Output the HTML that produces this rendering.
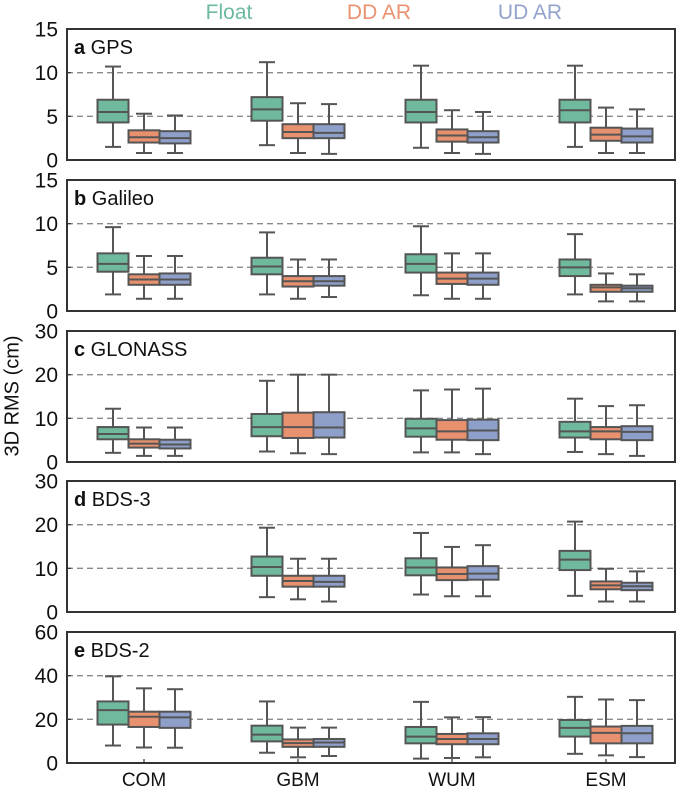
<!DOCTYPE html>
<html><head><meta charset="utf-8"><style>
html,body{margin:0;padding:0;background:#fff;}
svg{display:block;font-family:"Liberation Sans",Arial,sans-serif;}
</style></head><body>
<svg id="chart" width="685" height="792" viewBox="0 0 685 792" xmlns="http://www.w3.org/2000/svg">
<g>
<text x="229" y="19" font-size="21" fill="#6dbb9f" text-anchor="middle">Float</text>
<text x="379" y="19" font-size="21" fill="#ea9271" text-anchor="middle">DD AR</text>
<text x="530" y="19" font-size="21" fill="#94a3cc" text-anchor="middle">UD AR</text>
</g>
<text transform="translate(13,396) rotate(-90)" font-size="20" text-anchor="middle" dominant-baseline="middle" fill="#111">3D RMS (cm)</text>
<g id="plots"></g>
</svg>
<script>
const categories = ["COM","GBM","WUM","ESM"];
const seriesNames = ["Float","DD AR","UD AR"];
const panelTitles = [["a","GPS"],["b","Galileo"],["c","GLONASS"],["d","BDS-3"],["e","BDS-2"]];
const panelMax = [15,15,30,30,60];
const panelTicks = [[0,5,10,15],[0,5,10,15],[0,10,20,30],[0,10,20,30],[0,20,40,60]];
const panelGrid = [[5,10],[5,10],[10,20],[10,20],[20,40]];
// each box: [low whisker, Q1, median, Q3, high whisker]; null = no data
const gpsData = [
 [[1.5,4.3,5.5,6.9,10.7],[0.8,2.0,2.6,3.4,5.3],[0.8,1.9,2.5,3.3,5.1]],
 [[1.7,4.5,5.8,7.2,11.2],[0.8,2.5,3.2,4.1,6.5],[0.7,2.5,3.1,4.1,6.4]],
 [[1.4,4.3,5.5,6.9,10.8],[0.8,2.1,2.8,3.5,5.7],[0.7,2.0,2.6,3.3,5.5]],
 [[1.5,4.3,5.7,6.9,10.8],[0.8,2.2,2.9,3.7,6.0],[0.8,2.0,2.7,3.6,5.8]]];
const galileoData = [
 [[1.9,4.5,5.4,6.6,9.6],[1.4,3.0,3.6,4.2,6.3],[1.4,3.0,3.6,4.3,6.3]],
 [[1.9,4.2,5.1,6.1,9.0],[1.4,2.8,3.4,4.0,5.9],[1.6,2.9,3.4,4.0,5.9]],
 [[1.8,4.4,5.4,6.5,9.7],[1.4,3.1,3.7,4.4,6.6],[1.4,3.0,3.7,4.4,6.6]],
 [[1.9,4.0,5.0,5.9,8.8],[1.1,2.2,2.7,3.0,4.3],[1.1,2.2,2.6,2.9,4.2]]];
const glonassData = [
 [[2.1,5.2,6.4,8.0,12.2],[1.4,3.3,4.2,5.2,7.9],[1.4,3.1,4.0,5.1,7.9]],
 [[2.4,5.9,8.0,11.0,18.6],[2.0,5.5,8.0,11.3,20.0],[1.8,5.6,7.9,11.4,20.0]],
 [[2.2,5.8,7.7,9.9,16.4],[2.2,5.1,7.0,9.6,16.6],[1.8,5.0,7.2,9.7,16.8]],
 [[2.3,5.6,7.0,9.2,14.5],[1.8,5.2,7.0,8.0,12.8],[1.4,5.0,6.9,8.2,13.0]]];
const bds3Data = [
 [null,null,null],
 [[3.4,8.3,10.3,12.7,19.3],[2.9,5.8,7.1,8.3,12.2],[2.4,5.8,6.9,8.3,12.2]],
 [[4.0,8.4,10.2,12.3,18.1],[3.6,7.3,8.7,10.2,14.9],[3.6,7.4,8.8,10.5,15.3]],
 [[3.7,9.6,12.0,14.0,20.7],[2.4,5.2,6.1,7.0,9.9],[2.4,5.0,5.9,6.7,9.3]]];
const bds2Data = [
 [[8.0,17.6,24.2,28.2,39.7],[7.1,16.5,21.2,23.5,34.2],[7.0,16.1,20.9,23.5,33.8]],
 [[4.7,9.9,13.0,17.1,28.2],[2.6,7.4,9.1,10.8,16.2],[3.2,7.4,9.4,11.0,16.2]],
 [[2.0,9.0,12.1,16.5,28.0],[2.3,8.6,11.0,13.3,20.9],[2.6,8.6,11.0,13.6,21.0]],
 [[4.2,12.1,16.1,19.7,30.3],[3.5,9.0,13.8,16.7,29.1],[2.7,9.0,13.6,17.0,28.8]]];
const panelData = [gpsData, galileoData, glonassData, bds3Data, bds2Data];

const fills = ["#6fb99c","#e8916f","#8e9fc9"];
const NS = "http://www.w3.org/2000/svg";
const root = document.getElementById("plots");
const L = 67, R = 675, panelTops = [29,180,331,481,632], PH = 131;
const groupStart = 144, groupStep = 154, boxW = 31;
function mk(tag, attrs, parent){const e=document.createElementNS(NS,tag);for(const k in attrs)e.setAttribute(k,attrs[k]);parent.appendChild(e);return e;}
function xCenter(ci, si){return groupStart + ci*groupStep + (si-1)*boxW;}

panelData.forEach((data, pi)=>{
  const top = panelTops[pi], bot = top+PH, max = panelMax[pi];
  const y = v => bot - v/max*PH;
  const g = mk("g",{},root);
  
  
  panelGrid[pi].forEach(v=>{
    const ln = mk("line",{x1:L,x2:R,y1:y(v),y2:y(v),stroke:"#8a8a8a","stroke-width":1.4,"stroke-dasharray":"6,4"},g);
    
    
  });
  panelTicks[pi].forEach(v=>{
    const t = mk("text",{x:58,y:y(v)+7.5,"font-size":21,"text-anchor":"end",fill:"#111"},g);
    t.textContent = v;
    
    
    mk("line",{x1:L,x2:L+4,y1:y(v),y2:y(v),stroke:"#333","stroke-width":1.2},g);
  });
  data.forEach((grp, ci)=>{
    grp.forEach((b, si)=>{
      if(!b) return;
      const cx = xCenter(ci, si);
      const bg = mk("g",{},g);
      
      
      const st = {stroke:"#555","stroke-width":2};
      mk("line",Object.assign({x1:cx,x2:cx,y1:y(b[0]),y2:y(b[1])},st),bg);
      mk("line",Object.assign({x1:cx,x2:cx,y1:y(b[3]),y2:y(b[4])},st),bg);
      mk("line",Object.assign({x1:cx-8,x2:cx+8,y1:y(b[0]),y2:y(b[0])},st),bg);
      mk("line",Object.assign({x1:cx-8,x2:cx+8,y1:y(b[4]),y2:y(b[4])},st),bg);
      mk("rect",Object.assign({x:cx-boxW/2,y:y(b[3]),width:boxW,height:y(b[1])-y(b[3]),fill:fills[si]},st),bg);
      mk("line",Object.assign({x1:cx-boxW/2,x2:cx+boxW/2,y1:y(b[2]),y2:y(b[2])},st),bg);
    });
  });
  const fr = mk("rect",{x:L,y:top,width:R-L,height:PH,fill:"none",stroke:"#333","stroke-width":2},g);
  
  
  const tt = mk("text",{x:74,y:top+25,"font-size":20,fill:"#111"},g);
  tt.innerHTML = '<tspan font-weight="bold">'+panelTitles[pi][0]+'</tspan> '+panelTitles[pi][1];
  
  
  if(pi===4){
    categories.forEach((c,ci)=>{
      const cx = xCenter(ci,1);
      mk("line",{x1:cx,x2:cx,y1:bot,y2:bot-4,stroke:"#333","stroke-width":1.2},g);
      const t = mk("text",{x:cx,y:bot+23,"font-size":19,"text-anchor":"middle",fill:"#111"},g);
      t.textContent = c;
      
      
    });
  }
});
</script>
</body></html>
